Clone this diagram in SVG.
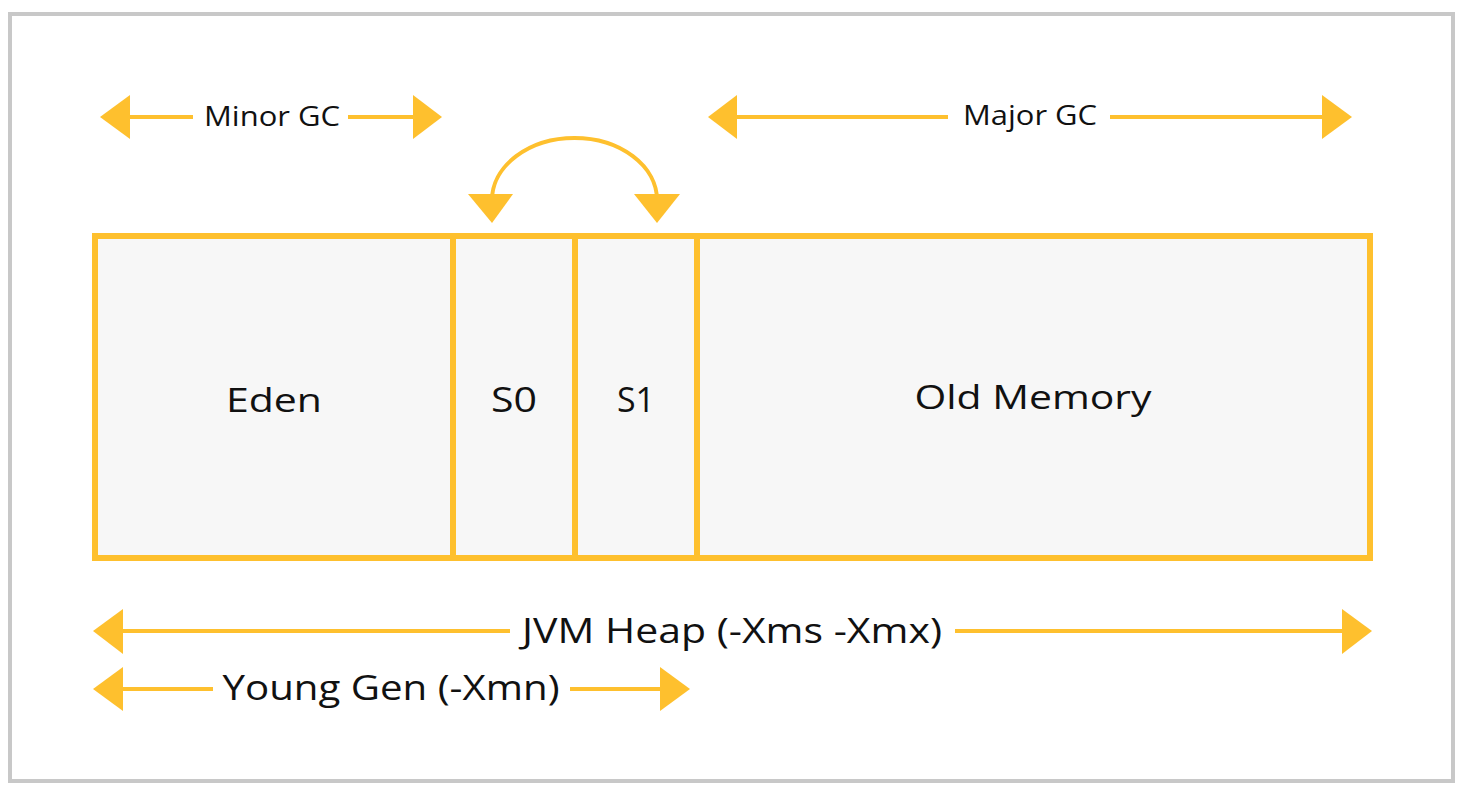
<svg xmlns="http://www.w3.org/2000/svg" width="1464" height="796" viewBox="0 0 1464 796">
<style>
.ln{stroke:#FEC02E;stroke-width:4;fill:none}
.hd{fill:#FEC02E}
.box{fill:#F7F7F7;stroke:#FEC02E;stroke-width:6}
.t{font-family:"Open Sans","Liberation Sans",sans-serif;fill:#111;text-anchor:middle;font-weight:500}
</style>
<rect x="10" y="14" width="1443" height="767" fill="#fff" stroke="#C8C8C8" stroke-width="4"/>
<g id="heap">
<rect class="box" x="95" y="236" width="1275" height="322"/>
</g>
<g id="eden"><rect class="box" x="95" y="236" width="358" height="322"/><text class="t" x="274" y="412" font-size="33" textLength="96" lengthAdjust="spacingAndGlyphs">Eden</text></g>
<g id="s0"><rect class="box" x="453" y="236" width="122" height="322"/><text class="t" x="514" y="412" font-size="34" textLength="46" lengthAdjust="spacingAndGlyphs">S0</text></g>
<g id="s1"><rect class="box" x="575" y="236" width="122" height="322"/><text class="t" x="636" y="412" font-size="34" textLength="38" lengthAdjust="spacingAndGlyphs">S1</text></g>
<g id="old"><rect class="box" x="697" y="236" width="673" height="322"/><text class="t" x="1033" y="409" font-size="33" textLength="237" lengthAdjust="spacingAndGlyphs">Old Memory</text></g>
<g id="connectors">
<line class="ln" x1="128" y1="117" x2="193" y2="117"/><line class="ln" x1="348" y1="117" x2="415" y2="117"/>
<polygon class="hd" points="100,117 130,95 130,139"/><polygon class="hd" points="442,117 413,95 413,139"/>
<line class="ln" x1="735" y1="117" x2="948" y2="117"/><line class="ln" x1="1110" y1="117" x2="1324" y2="117"/>
<polygon class="hd" points="708,117 737,95 737,139"/><polygon class="hd" points="1352,117 1322,95 1322,139"/>
<path class="ln" d="M492,200 A82.5,62 0 0 1 657,200"/>
<polygon class="hd" points="468,194 513,194 492,223"/><polygon class="hd" points="634,194 680,194 657,223"/>
<line class="ln" x1="121" y1="631" x2="510" y2="631"/><line class="ln" x1="955" y1="631" x2="1344" y2="631"/>
<polygon class="hd" points="93,631 123,609 123,654"/><polygon class="hd" points="1372,631 1342,609 1342,654"/>
<line class="ln" x1="121" y1="689" x2="213" y2="689"/><line class="ln" x1="570" y1="689" x2="662" y2="689"/>
<polygon class="hd" points="93,689 123,667 123,711"/><polygon class="hd" points="690,689 660,667 660,711"/>
</g>
<g id="labels">
<text class="t" x="272" y="126" font-size="27" textLength="136" lengthAdjust="spacingAndGlyphs">Minor GC</text>
<text class="t" x="1030" y="125" font-size="27" textLength="134" lengthAdjust="spacingAndGlyphs">Major GC</text>
<text class="t" x="732" y="643" font-size="35" textLength="420" lengthAdjust="spacingAndGlyphs">JVM Heap (-Xms -Xmx)</text>
<text class="t" x="391" y="700" font-size="35" textLength="337" lengthAdjust="spacingAndGlyphs">Young Gen (-Xmn)</text>
</g>
</svg>
